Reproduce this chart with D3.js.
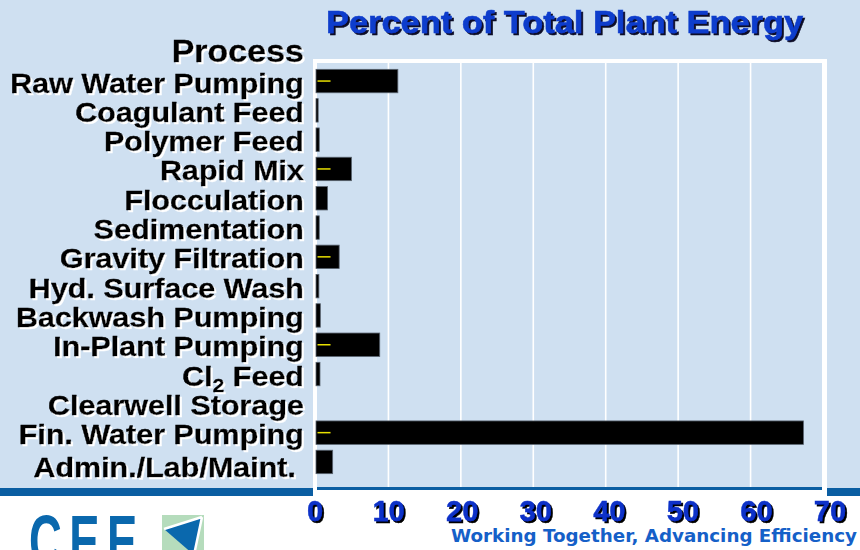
<!DOCTYPE html>
<html>
<head>
<meta charset="utf-8">
<script src="https://cdn.jsdelivr.net/npm/d3@7/dist/d3.min.js"></script>
<style>
  html, body { margin: 0; padding: 0; background: #ffffff; }
  svg { display: block; }
</style>
</head>
<body>
<div id="chart"></div>
<script>
// ---- data ----
const categories = [
  "Raw Water Pumping", "Coagulant Feed", "Polymer Feed", "Rapid Mix",
  "Flocculation", "Sedimentation", "Gravity Filtration", "Hyd. Surface Wash",
  "Backwash Pumping", "In-Plant Pumping", "Cl2 Feed", "Clearwell Storage",
  "Fin. Water Pumping", "Admin./Lab/Maint."
];
const percentValues = [11.3, 0.3, 0.45, 4.9, 1.6, 0.45, 3.2, 0.4, 0.6, 8.8, 0.55, 0, 67.3, 2.3];
const yellowMarks   = [1.8, null, null, 1.8, null, null, 1.8, null, null, 1.8, null, null, 1.8, null];
const xTicks = [0, 10, 20, 30, 40, 50, 60, 70];
const titleText = "Percent of Total Plant Energy";
const axisTitle = "Process";
const tagline = "Working Together, Advancing Efficiency";
const logoText = "CEE";

// ---- layout ----
const W = 860, H = 550;
const slideBg = "#cfe0f1";
const bandBlue = "#0b5ea2";

const svg = d3.select("#chart").append("svg")
  .attr("width", W).attr("height", H)
  .style("font-family", "'Liberation Sans', Arial, sans-serif");

// shadow filters
const defs = svg.append("defs");
function shadowFilter(id, dx, dy, color) {
  const f = defs.append("filter").attr("id", id)
    .attr("x", "-5%").attr("y", "-20%").attr("width", "115%").attr("height", "150%");
  f.append("feOffset").attr("in", "SourceAlpha").attr("dx", dx).attr("dy", dy).attr("result", "off");
  f.append("feFlood").attr("flood-color", color).attr("result", "col");
  f.append("feComposite").attr("in", "col").attr("in2", "off").attr("operator", "in").attr("result", "sh");
  const m = f.append("feMerge");
  m.append("feMergeNode").attr("in", "sh");
  m.append("feMergeNode").attr("in", "SourceGraphic");
}
shadowFilter("whiteSh", 1.5, 1.5, "#ffffff");
shadowFilter("darkSh", 2, 2, "#0a0a28");
shadowFilter("blackSh", 2, 2, "#000000");

// slide background
svg.append("rect").attr("x", 0).attr("y", 0).attr("width", W).attr("height", 488).attr("fill", slideBg);
svg.append("rect").attr("x", 0).attr("y", 488).attr("width", W).attr("height", 8).attr("fill", bandBlue);
svg.append("rect").attr("x", 0).attr("y", 496).attr("width", W).attr("height", H - 496).attr("fill", "#ffffff");

// scales
const x = d3.scaleLinear().domain([0, 70]).range([316, 823]);
const xLab = x.copy().range([315, 830]);
const y = d3.scaleBand().domain(categories).range([66.4, 476.6]).paddingInner(0.2).paddingOuter(0.1);

// plot frame
svg.append("rect").attr("x", 313).attr("y", 59).attr("width", 514).attr("height", 437).attr("fill", "#ffffff");
svg.append("rect").attr("x", 317).attr("y", 63).attr("width", 505).attr("height", 424).attr("fill", slideBg);
svg.append("rect").attr("x", 317).attr("y", 487).attr("width", 505).attr("height", 3).attr("fill", bandBlue);

// gridlines
svg.append("g").selectAll("line")
  .data(xTicks.filter(d => d > 0 && d < 70))
  .join("line")
  .attr("x1", d => x(d)).attr("x2", d => x(d))
  .attr("y1", 63).attr("y2", 487)
  .attr("stroke", "#ffffff").attr("stroke-width", 1.6);

// bars
const rows = categories.map((c, i) => ({ c, v: percentValues[i], m: yellowMarks[i], i }));
svg.append("g").selectAll("rect")
  .data(rows.filter(d => d.v > 0))
  .join("rect")
  .attr("x", x(0))
  .attr("y", d => y(d.c))
  .attr("width", d => x(d.v) - x(0))
  .attr("height", y.bandwidth())
  .attr("fill", "#000000")
  .attr("stroke", "#5a6470").attr("stroke-width", 0.8);

// yellow marks
svg.append("g").selectAll("line")
  .data(rows.filter(d => d.m != null))
  .join("line")
  .attr("x1", x(0) + 1.5).attr("x2", d => x(d.m) + 1.5)
  .attr("y1", d => y(d.c) + y.bandwidth() / 2)
  .attr("y2", d => y(d.c) + y.bandwidth() / 2)
  .attr("stroke", "#e8e000").attr("stroke-width", 1.5);

// category labels (white shadow, black text)
const labelX = 304;
const labG = svg.append("g").attr("filter", "url(#whiteSh)");
categories.forEach((d, i) => {
  const last = i === categories.length - 1;
  const lx = labelX + (last ? -8 : 0);
  const ly = y(d) + y.bandwidth() / 2 + 11.5 + (last ? 4 : 0);
  const t = labG.append("text")
    .attr("transform", `translate(${lx},${ly}) scale(1.09,1)`)
    .attr("text-anchor", "end")
    .attr("font-size", 28).attr("font-weight", "bold")
    .attr("fill", "#000000").attr("stroke", "#000000").attr("stroke-width", 0.35);
  if (d.startsWith("Cl2")) {
    t.append("tspan").text("Cl");
    t.append("tspan").attr("font-size", 19).attr("dy", 6).text("2");
    t.append("tspan").attr("dy", -6).text(d.slice(3));
  } else {
    t.text(d);
  }
});

// axis title "Process"
svg.append("text")
  .attr("filter", "url(#whiteSh)")
  .attr("transform", `translate(${labelX},61.5) scale(1.08,1)`)
  .attr("text-anchor", "end")
  .attr("font-size", 31.5).attr("font-weight", "bold")
  .attr("fill", "#000000").attr("stroke", "#000000").attr("stroke-width", 0.35)
  .text(axisTitle);

// chart title
svg.append("text")
  .attr("filter", "url(#darkSh)")
  .attr("transform", `translate(326,33) scale(1.075,1)`)
  .attr("font-size", 32).attr("font-weight", "bold")
  .attr("fill", "#0c3ccc").attr("stroke", "#0c3ccc").attr("stroke-width", 0.5)
  .text(titleText);

// x tick labels
svg.append("g").attr("filter", "url(#blackSh)").selectAll("text")
  .data(xTicks)
  .join("text")
  .attr("x", d => xLab(d))
  .attr("y", 521)
  .attr("text-anchor", "middle")
  .attr("font-size", 29).attr("font-weight", "bold")
  .attr("fill", "#0a30c8").attr("stroke", "#0a30c8").attr("stroke-width", 0.4)
  .text(d => d);

// tagline
svg.append("text")
  .attr("x", 857).attr("y", 542)
  .attr("text-anchor", "end")
  .attr("font-family", "'DejaVu Sans', Verdana, sans-serif")
  .attr("font-size", 18.3).attr("font-weight", "bold")
  .attr("fill", "#1560c8")
  .text(tagline);

// logo
svg.append("text")
  .attr("transform", "translate(29,566) scale(0.63,1)")
  .attr("font-size", 72).attr("font-weight", "bold")
  .attr("letter-spacing", 12)
  .attr("fill", "#0a68ad")
  .text(logoText);
const lg = svg.append("g").attr("transform", "translate(162,515)");
lg.append("rect").attr("width", 42).attr("height", 40).attr("fill", "#b5dcbc");
lg.append("path").attr("d", "M2,14 L40,2 L32,40 Z").attr("fill", "#0a68ad");
lg.append("path").attr("d", "M2,14 L40,2 M40,2 L32,40").attr("stroke", "#ffffff").attr("stroke-width", 2.5).attr("fill", "none");
</script>
</body>
</html>
